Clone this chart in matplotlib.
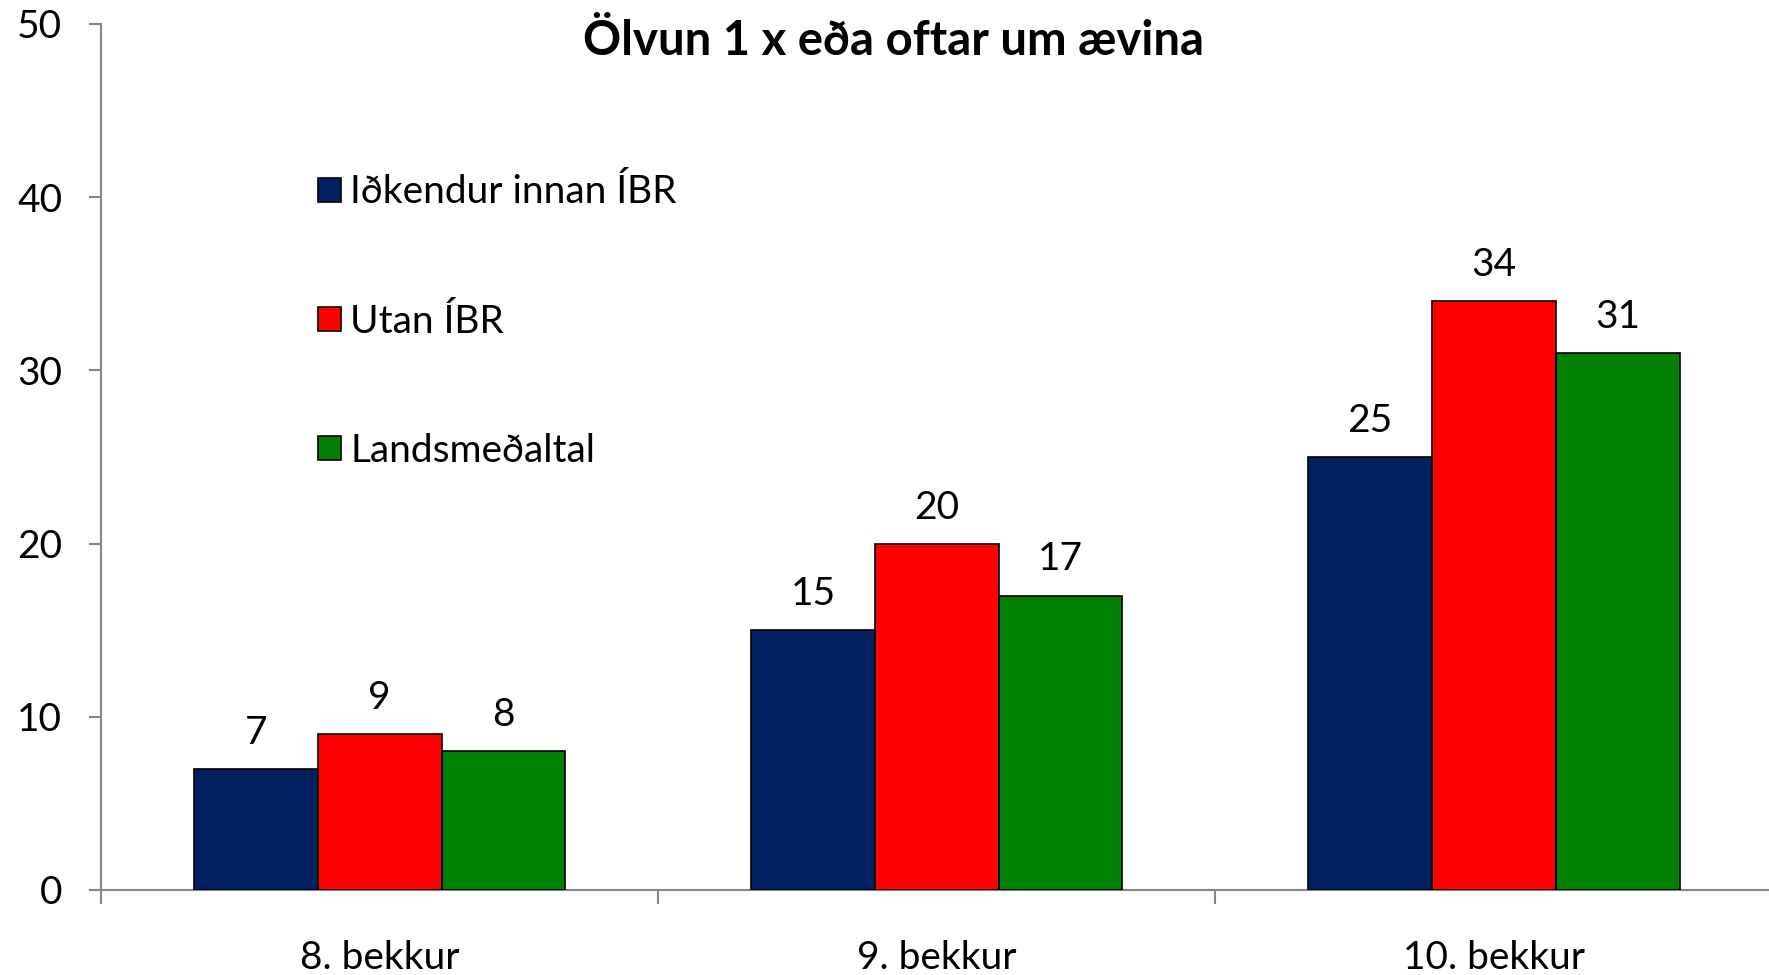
import matplotlib.pyplot as plt
import numpy as np

plt.rcParams['font.family'] = ['Lato', 'DejaVu Sans']

categories = ['8. bekkur', '9. bekkur', '10. bekkur']
series_names = ['Iðkendur innan ÍBR', 'Utan ÍBR', 'Landsmeðaltal']
innan_ibr = [7, 15, 25]
utan_ibr = [9, 20, 34]
landsmedaltal = [8, 17, 31]
colors = ['#002060', '#FF0000', '#008000']

fig = plt.figure(figsize=(17.69, 9.75), dpi=100)
ax = fig.add_axes([0.0571, 0.0872, 0.9449, 0.8882])

index = np.arange(len(categories))
bar_width = 2 / 9
values = [innan_ibr, utan_ibr, landsmedaltal]

for i, (name, vals, col) in enumerate(zip(series_names, values, colors)):
    pos = index + (i - 1) * bar_width
    bars = ax.bar(pos, vals, bar_width, color=col, edgecolor='black',
                  linewidth=1.2, label=name, zorder=3)
    for b, v in zip(bars, vals):
        ax.annotate(str(v), (b.get_x() + b.get_width() / 2, v),
                    xytext=(0, 13), textcoords='offset points',
                    ha='center', va='bottom', fontsize=28)

ax.set_xlim(-0.5, len(categories) - 0.5)
ax.set_ylim(0, 50)
ax.set_yticks(np.arange(0, 51, 10))

ax.set_xticks(np.arange(-0.5, len(categories), 1))
ax.set_xticklabels([])
ax.set_xticks(index, minor=True)
ax.set_xticklabels(categories, minor=True)

spine_col = '#868686'
for s in ['top', 'right']:
    ax.spines[s].set_visible(False)
for s in ['left', 'bottom']:
    ax.spines[s].set_color(spine_col)
    ax.spines[s].set_linewidth(1.5)

ax.tick_params(axis='y', which='major', length=9, width=1.5, color=spine_col,
               labelsize=28, pad=19)
ax.tick_params(axis='x', which='major', length=10, width=1.5, color=spine_col,
               direction='out')
ax.tick_params(axis='x', which='minor', length=0, labelsize=28, pad=36)

fig.text(0.505, 0.958, 'Ölvun 1 x eða oftar um ævina', ha='center', va='center',
         fontsize=34, fontweight='bold')

ax.legend(loc='upper left', bbox_to_anchor=(0.160, 0.857), bbox_transform=fig.transFigure,
          frameon=False, fontsize=28, labelspacing=2.4, handlelength=0.58,
          handleheight=0.58, handletextpad=0.25)

fig.savefig('out.png', dpi=100)
